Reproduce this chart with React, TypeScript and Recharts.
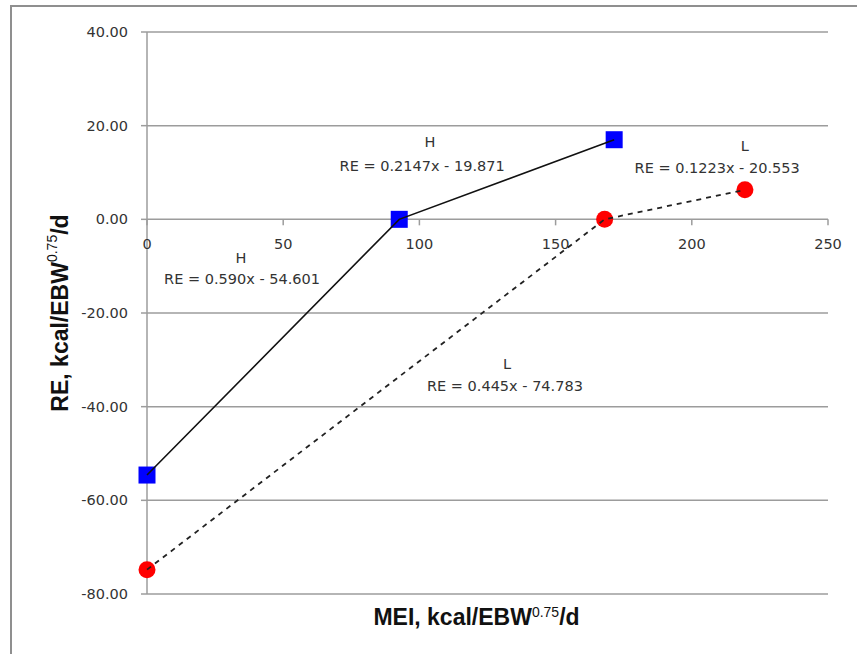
import React from 'react';
import {
  ScatterChart,
  Scatter,
  XAxis,
  YAxis,
  CartesianGrid,
  ReferenceDot,
} from 'recharts';

// MEI vs RE points for the two groups
const seriesH = [
  { x: 0, y: -54.6 },
  { x: 92.6, y: 0 },
  { x: 171.5, y: 17.0 },
];

const seriesL = [
  { x: 0, y: -74.8 },
  { x: 168, y: 0 },
  { x: 219.5, y: 6.3 },
];

const xTicks = [0, 50, 100, 150, 200, 250];
const yTicks = [-80, -60, -40, -20, 0, 20, 40];

// equation annotations (data coordinates)
const annotations = [
  { x: 103.9, y: 16.5, text: 'H' },
  { x: 101, y: 11.4, text: 'RE = 0.2147x - 19.871' },
  { x: 219.5, y: 15.7, text: 'L' },
  { x: 209.3, y: 11.0, text: 'RE = 0.1223x - 20.553' },
  { x: 34.5, y: -8.3, text: 'H' },
  { x: 34.9, y: -12.7, text: 'RE = 0.590x - 54.601' },
  { x: 132.2, y: -30.9, text: 'L' },
  { x: 131.4, y: -35.6, text: 'RE = 0.445x - 74.783' },
];

const TICK_FONT = '"DejaVu Sans", sans-serif';
const TITLE_FONT = '"Liberation Sans", Arial, sans-serif';
const GRID = '#9c9c9c';

const BlueSquare = (p: any) => (
  <rect x={p.cx - 8.5} y={p.cy - 8.5} width={17} height={17} fill="#0000ff" />
);

const RedDot = (p: any) => <circle cx={p.cx} cy={p.cy} r={8.5} fill="#ff0000" />;

const NoMark = () => <g />;

const XTickMark = (p: any) => (
  <g>
    <line x1={p.cx} y1={p.cy} x2={p.cx} y2={p.cy + 6} stroke={GRID} strokeWidth={1.5} />
    <text
      x={p.cx}
      y={p.cy + 30}
      textAnchor="middle"
      fontFamily={TICK_FONT}
      fontSize={14.5}
      fill="#333"
    >
      {p.label}
    </text>
  </g>
);

const AnnotationText = (p: any) => (
  <text
    x={p.cx}
    y={p.cy}
    textAnchor="middle"
    dominantBaseline="central"
    fontFamily={TICK_FONT}
    fontSize={14.5}
    fill="#333"
  >
    {p.text}
  </text>
);

const YTitle = (props: any) => {
  const vb = props.viewBox;
  const cx = vb.x + 60;
  const cy = vb.y + vb.height / 2;
  return (
    <text
      x={cx}
      y={cy}
      transform={`rotate(-90 ${cx} ${cy})`}
      textAnchor="middle"
      dominantBaseline="central"
      fontFamily={TITLE_FONT}
      fontWeight="bold"
      fontSize={23}
      fill="#111"
    >
      RE, kcal/EBW
      <tspan fontSize={14} fontWeight="normal" dy={-8}>0.75</tspan>
      <tspan dy={8}>/d</tspan>
    </text>
  );
};

const XTitle = (props: any) => {
  const vb = props.viewBox;
  return (
    <text
      x={vb.x + vb.width / 2 - 11}
      y={vb.y + 31}
      textAnchor="middle"
      fontFamily={TITLE_FONT}
      fontWeight="bold"
      fontSize={23}
      fill="#111"
    >
      MEI, kcal/EBW
      <tspan fontSize={14} fontWeight="normal" dy={-8}>0.75</tspan>
      <tspan dy={8}>/d</tspan>
    </text>
  );
};

export default function App() {
  return (
    <div style={{ position: 'absolute', left: 0, top: 0, width: 857, height: 654, background: '#fff' }}>
      <div
        style={{
          position: 'absolute',
          left: 10,
          top: 5,
          width: 860,
          height: 660,
          borderLeft: '2px solid #8f8f8f',
          borderTop: '2px solid #8f8f8f',
        }}
      />
      <ScatterChart
        width={857}
        height={654}
        margin={{ top: 32, right: 29, bottom: 0, left: 0 }}
        style={{ position: 'absolute', left: 0, top: 0 }}
      >
        <CartesianGrid vertical={false} stroke={GRID} strokeWidth={1.5} />
        <XAxis
          type="number"
          dataKey="x"
          domain={[0, 250]}
          ticks={xTicks}
          height={60}
          axisLine={false}
          tickLine={false}
          tick={false}
          label={<XTitle />}
        />
        <YAxis
          type="number"
          dataKey="y"
          domain={[-80, 40]}
          ticks={yTicks}
          width={147}
          interval={0}
          axisLine={{ stroke: GRID, strokeWidth: 1.5 }}
          tickLine={{ stroke: GRID, strokeWidth: 1.5 }}
          tickSize={6}
          tickMargin={13}
          tickFormatter={(v: number) => v.toFixed(2)}
          tick={{ fontFamily: TICK_FONT, fontSize: 14.5, fill: '#333' }}
          label={<YTitle />}
        />
        {xTicks.map((t) => (
          <ReferenceDot
            key={`xt-${t}`}
            x={t}
            y={0}
            r={0}
            ifOverflow="visible"
            shape={(p: any) => <XTickMark {...p} label={t} />}
          />
        ))}
        <Scatter data={seriesH} shape={BlueSquare} isAnimationActive={false} />
        <Scatter data={seriesL} shape={RedDot} isAnimationActive={false} />
        <Scatter
          data={seriesH}
          shape={NoMark}
          line={{ stroke: '#111', strokeWidth: 1.6 }}
          isAnimationActive={false}
        />
        <Scatter
          data={seriesL}
          shape={NoMark}
          line={{ stroke: '#222', strokeWidth: 1.8, strokeDasharray: '5 5' }}
          isAnimationActive={false}
        />
        {annotations.map((a, i) => (
          <ReferenceDot
            key={`ann-${i}`}
            x={a.x}
            y={a.y}
            r={0}
            ifOverflow="visible"
            shape={(p: any) => <AnnotationText {...p} text={a.text} />}
          />
        ))}
      </ScatterChart>
    </div>
  );
}
